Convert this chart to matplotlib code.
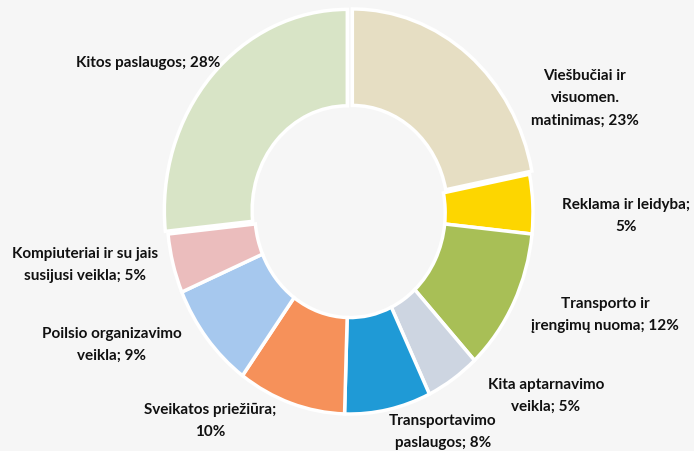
import matplotlib.pyplot as plt

# Data (percent shares)
sectors = ["Viešbučiai ir\nvisuomen.\nmatinimas", "Reklama ir leidyba",
           "Transporto ir\nįrengimų nuoma", "Kita aptarnavimo\nveikla",
           "Transportavimo\npaslaugos", "Sveikatos priežiūra",
           "Poilsio organizavimo\nveikla", "Kompiuteriai ir su jais\nsusijusi veikla",
           "Kitos paslaugos"]
shares = [23, 5, 12, 5, 8, 10, 9, 5, 28]
colors = ["#E6DEC3", "#FDD600", "#A8BF56", "#CDD5E1", "#1F9AD6",
          "#F6915A", "#A6C8EE", "#EBBDBD", "#D8E4C6"]

# layout only: where each label sits (in units of the ring radius)
pct_on_new_line = [False, True, False, False, False, True, False, False, False]
label_pos = [(1.284, 0.577), (1.508, -0.010), (1.393, -0.502), (1.071, -0.905),
             (0.508, -1.085), (-0.765, -1.030), (-1.301, -0.652), (-1.448, -0.254),
             (-1.104, 0.751)]
explode = [0.02, 0, 0, 0, 0, 0, 0, 0, 0.02]

plt.rcParams['font.family'] = ['Lato', 'DejaVu Sans']

fig = plt.figure(figsize=(6.94, 4.52), dpi=100)
fig.patch.set_facecolor("#F6F6F6")
ax = fig.add_axes([0, 0, 1, 1])
ax.set_facecolor("#F6F6F6")

ax.pie(shares, colors=colors, startangle=90, counterclock=False,
       explode=explode, radius=1.0,
       wedgeprops=dict(width=0.48, edgecolor="white", linewidth=2.5))

for name, v, nl, (x, y) in zip(sectors, shares, pct_on_new_line, label_pos):
    txt = f"{name};" + ("\n" if nl else " ") + f"{v}%"
    ax.text(x, y, txt, ha="center", va="center", multialignment="center",
            fontsize=11, fontweight="bold", linespacing=1.75, color="#111111")

# the scan is slightly squeezed sideways, so no equal aspect
ax.set_aspect("auto")
ax.set_xlim(-1.913, 1.880)
ax.set_ylim(-1.184, 1.065)
ax.axis("off")

fig.savefig("out.png", dpi=100, facecolor=fig.get_facecolor())
